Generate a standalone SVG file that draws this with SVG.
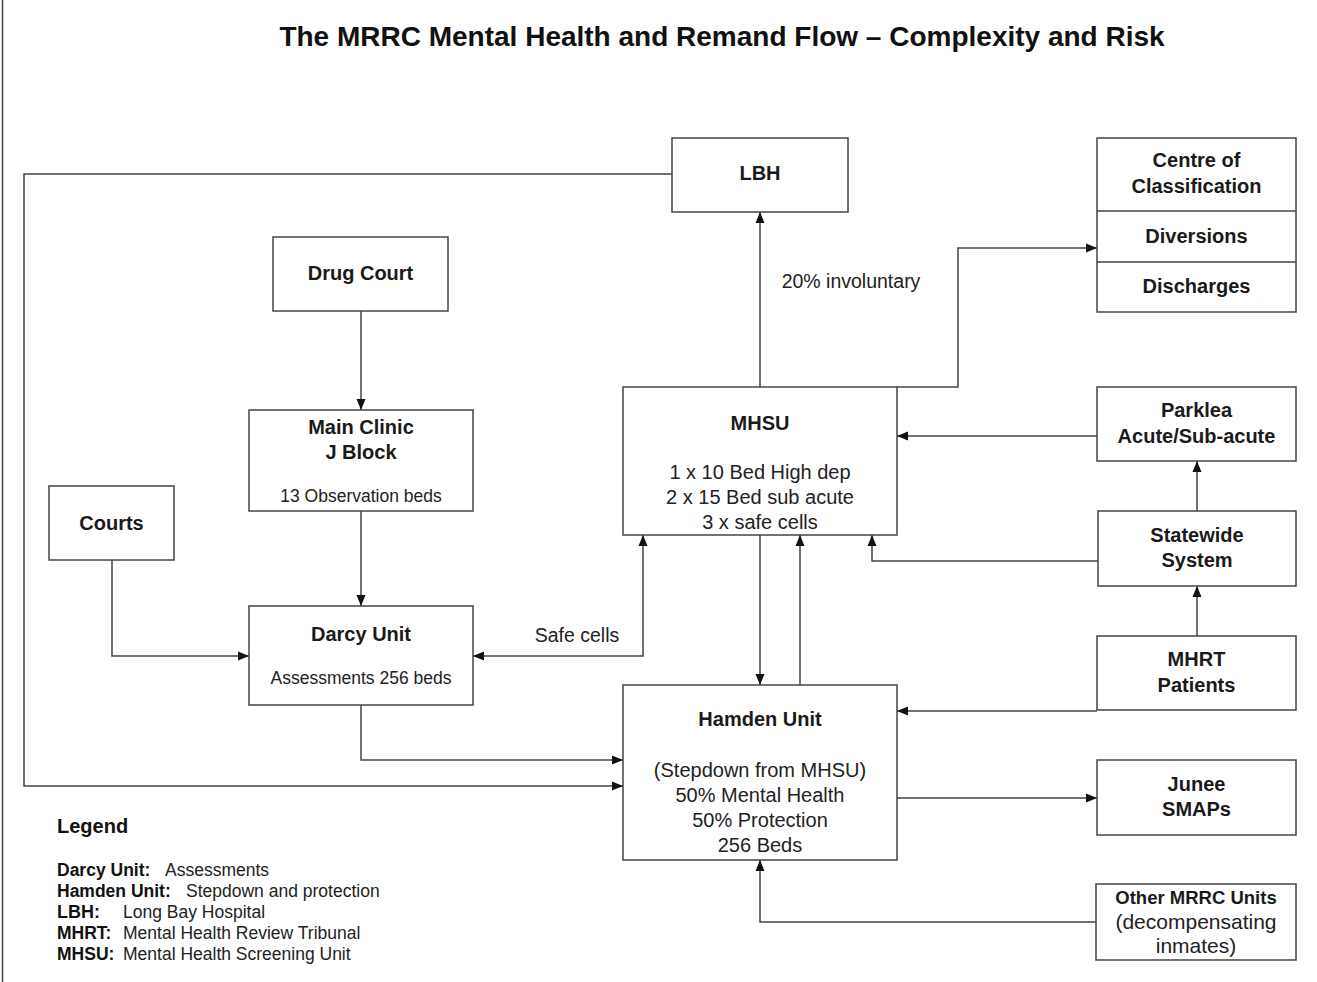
<svg xmlns="http://www.w3.org/2000/svg" width="1317" height="982" viewBox="0 0 1317 982">
<style>
.box{fill:#fff;stroke:#444;stroke-width:1.5}
.b{font-family:"Liberation Sans",Arial,sans-serif;font-weight:bold;font-size:20px;fill:#1a1a1a;text-anchor:middle}
.r{font-family:"Liberation Sans",Arial,sans-serif;font-size:20px;fill:#222;text-anchor:middle}
.s{font-family:"Liberation Sans",Arial,sans-serif;font-size:17.5px;fill:#222}
.c{fill:none;stroke:#444;stroke-width:1.5}
.lg{font-family:"Liberation Sans",Arial,sans-serif;font-size:17.5px;fill:#222}
.lgb{font-weight:bold;fill:#111}
</style>
<defs>
<marker id="ah" markerUnits="userSpaceOnUse" markerWidth="12" markerHeight="10" refX="11" refY="4.5" orient="auto-start-reverse" viewBox="0 0 12 9">
<path d="M0,0 L11,4.5 L0,9 z" fill="#111"/>
</marker>
</defs>
<rect width="1317" height="982" fill="#fff"/>
<line x1="2.5" y1="0" x2="2.5" y2="982" stroke="#444" stroke-width="1.5"/>
<text x="722" y="46" font-family="Liberation Sans,Arial,sans-serif" font-weight="bold" font-size="28" fill="#111" text-anchor="middle">The MRRC Mental Health and Remand Flow – Complexity and Risk</text>

<g id="connectors">
<path class="c" d="M672,174 H24 V786 H623" marker-end="url(#ah)"/>
<path class="c" d="M361,311 V410" marker-end="url(#ah)"/>
<path class="c" d="M361,511 V606" marker-end="url(#ah)"/>
<path class="c" d="M112,560 V656 H249" marker-end="url(#ah)"/>
<path class="c" d="M361,705 V760 H623" marker-end="url(#ah)"/>
<path class="c" d="M643,535 V656 H473" marker-start="url(#ah)" marker-end="url(#ah)"/>
<path class="c" d="M760,387 V212" marker-end="url(#ah)"/>
<path class="c" d="M897,387 H958 V248 H1097" marker-end="url(#ah)"/>
<path class="c" d="M1097,436 H897" marker-end="url(#ah)"/>
<path class="c" d="M1197,511 V461" marker-end="url(#ah)"/>
<path class="c" d="M1098,561 H872 V535" marker-end="url(#ah)"/>
<path class="c" d="M1197,636 V586" marker-end="url(#ah)"/>
<path class="c" d="M1097,711 H897" marker-end="url(#ah)"/>
<path class="c" d="M760,535 V685" marker-end="url(#ah)"/>
<path class="c" d="M800,685 V535" marker-end="url(#ah)"/>
<path class="c" d="M897,798 H1097" marker-end="url(#ah)"/>
<path class="c" d="M1096,922 H760 V860" marker-end="url(#ah)"/>
<text class="s" x="851" y="288" text-anchor="middle" style="font-size:19.5px">20% involuntary</text>
<text class="s" x="577" y="642" text-anchor="middle" style="font-size:19.5px">Safe cells</text>
</g>

<g id="lbh"><rect class="box" x="672" y="138" width="176" height="74"/><text class="b" x="760" y="180">LBH</text></g>
<g id="classification">
<rect class="box" x="1097" y="138" width="199" height="174"/>
<line x1="1097" y1="211" x2="1296" y2="211" stroke="#444" stroke-width="1.5"/>
<line x1="1097" y1="262" x2="1296" y2="262" stroke="#444" stroke-width="1.5"/>
<text class="b" x="1196.5" y="167">Centre of</text>
<text class="b" x="1196.5" y="193">Classification</text>
<text class="b" x="1196.5" y="243">Diversions</text>
<text class="b" x="1196.5" y="293">Discharges</text>
</g>
<g id="drugcourt"><rect class="box" x="273" y="237" width="175" height="74"/><text class="b" x="360.5" y="280">Drug Court</text></g>
<g id="mainclinic"><rect class="box" x="249" y="410" width="224" height="101"/>
<text class="b" x="361" y="434">Main Clinic</text><text class="b" x="361" y="459">J Block</text>
<text class="s" x="361" y="502" text-anchor="middle">13 Observation beds</text></g>
<g id="courts"><rect class="box" x="49" y="486" width="125" height="74"/><text class="b" x="111.5" y="530">Courts</text></g>
<g id="darcy"><rect class="box" x="249" y="606" width="224" height="99"/>
<text class="b" x="361" y="641">Darcy Unit</text>
<text class="s" x="361" y="684" text-anchor="middle">Assessments 256 beds</text></g>
<g id="mhsu"><rect class="box" x="623" y="387" width="274" height="148"/>
<text class="b" x="760" y="430">MHSU</text>
<text class="r" x="760" y="479">1 x 10 Bed High dep</text>
<text class="r" x="760" y="504">2 x 15 Bed sub acute</text>
<text class="r" x="760" y="529">3 x safe cells</text></g>
<g id="hamden"><rect class="box" x="623" y="685" width="274" height="175"/>
<text class="b" x="760" y="726">Hamden Unit</text>
<text class="r" x="760" y="777">(Stepdown from MHSU)</text>
<text class="r" x="760" y="802">50% Mental Health</text>
<text class="r" x="760" y="827">50% Protection</text>
<text class="r" x="760" y="852">256 Beds</text></g>
<g id="parklea"><rect class="box" x="1097" y="387" width="199" height="74"/>
<text class="b" x="1196.5" y="417">Parklea</text><text class="b" x="1196.5" y="443">Acute/Sub-acute</text></g>
<g id="statewide"><rect class="box" x="1098" y="511" width="198" height="75"/>
<text class="b" x="1197" y="542">Statewide</text><text class="b" x="1197" y="567">System</text></g>
<g id="mhrt"><rect class="box" x="1097" y="636" width="199" height="74"/>
<text class="b" x="1196.5" y="666">MHRT</text><text class="b" x="1196.5" y="692">Patients</text></g>
<g id="junee"><rect class="box" x="1097" y="760" width="199" height="75"/>
<text class="b" x="1196.5" y="791">Junee</text><text class="b" x="1196.5" y="816">SMAPs</text></g>
<g id="othermrrc"><rect class="box" x="1096" y="884" width="200" height="76"/>
<text class="b" x="1196" y="904" style="font-size:18.5px">Other MRRC Units</text>
<text class="r" x="1196" y="929" style="font-size:21px">(decompensating</text>
<text class="r" x="1196" y="953" style="font-size:21px">inmates)</text></g>

<g id="legend">
<text x="57" y="833" font-family="Liberation Sans,Arial,sans-serif" font-weight="bold" font-size="20" fill="#111">Legend</text>
<text class="lg" x="57" y="876"><tspan class="lgb">Darcy Unit:</tspan><tspan x="165">Assessments</tspan></text>
<text class="lg" x="57" y="897"><tspan class="lgb">Hamden Unit:</tspan><tspan x="186">Stepdown and protection</tspan></text>
<text class="lg" x="57" y="918"><tspan class="lgb" font-size="18" fill="#0a1a3a">LBH:</tspan><tspan x="123">Long Bay Hospital</tspan></text>
<text class="lg" x="57" y="939"><tspan class="lgb">MHRT:</tspan><tspan x="123">Mental Health Review Tribunal</tspan></text>
<text class="lg" x="57" y="960"><tspan class="lgb">MHSU:</tspan><tspan x="123">Mental Health Screening Unit</tspan></text>
</g>
</svg>
